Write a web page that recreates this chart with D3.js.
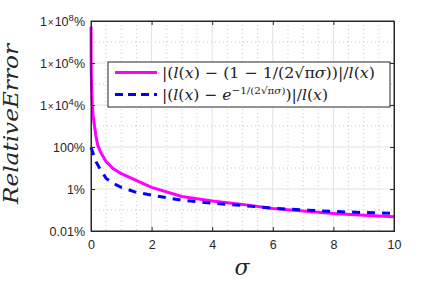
<!DOCTYPE html>
<html><head><meta charset="utf-8">
<script src="https://cdn.jsdelivr.net/npm/d3@7"></script>
<style>body{margin:0;background:#fff}svg{display:block}</style>
</head><body>
<svg id="c" width="436" height="282"></svg>
<script>
// ---- data ----
const sigmaMagenta = [0.001,0.005,0.01,0.02,0.04,0.07,0.11,0.16,0.22,0.3,0.5,0.75,1.0,2,3,4,5,6,7,8,9,10];
const errMagenta   = [5.4e7,1.6e6,3.2e5,6.3e4,1.26e4,3200,1120,355,126,63,20,8.9,5.4,1.2,0.44,0.27,0.185,0.117,0.089,0.069,0.056,0.048];
const sigmaBlue = [0.001,0.08,0.165,0.3,0.5,0.75,1.0,1.5,2,3,4,5,6,7,8,9,10];
const errBlue   = [95,45,20,8.9,3.2,1.78,1.2,0.69,0.51,0.29,0.21,0.163,0.123,0.1,0.085,0.076,0.069];
const xTicks = [0,2,4,6,8,10];
const xMinor = [0.5,1,1.5,2.5,3,3.5,4.5,5,5.5,6.5,7,7.5,8.5,9,9.5];
const yTicks = [0.01,1,100,1e4,1e6,1e8];
const yTickLabels = ["0.01%","1%","100%","1×10^4%","1×10^6%","1×10^8%"];
const yMinor = [0.1,10,1e3,1e5,1e7];

const svg = d3.select("#c");
const L=91,R=394,T=21,B=231;
const x = d3.scaleLinear().domain([0,10]).range([L,R]);
const y = d3.scaleLog().domain([0.01,1e8]).range([B,T]);
const axisCol="#262626";

// grid
const g = svg.append("g");
g.selectAll(".mx").data(xMinor).join("line").attr("x1",d=>x(d)).attr("x2",d=>x(d)).attr("y1",T).attr("y2",B)
 .attr("stroke","#c8c8c8").attr("stroke-width",1).attr("stroke-dasharray","1,3");
g.selectAll(".my").data(yMinor).join("line").attr("y1",d=>y(d)).attr("y2",d=>y(d)).attr("x1",L).attr("x2",R)
 .attr("stroke","#c8c8c8").attr("stroke-width",1).attr("stroke-dasharray","1,3");
g.selectAll(".Mx").data(xTicks.slice(1,-1)).join("line").attr("x1",d=>x(d)).attr("x2",d=>x(d)).attr("y1",T).attr("y2",B)
 .attr("stroke","#e2e2e2").attr("stroke-width",1);
g.selectAll(".My").data(yTicks.slice(1,-1)).join("line").attr("y1",d=>y(d)).attr("y2",d=>y(d)).attr("x1",L).attr("x2",R)
 .attr("stroke","#e2e2e2").attr("stroke-width",1);

// lines
const lineM = d3.line().x((d,i)=>x(sigmaMagenta[i])).y(d=>y(d));
const lineB = d3.line().x((d,i)=>x(sigmaBlue[i])).y(d=>y(d));
svg.append("path").attr("d",lineM(errMagenta)).attr("fill","none").attr("stroke","#ff00ff").attr("stroke-width",3).attr("stroke-linejoin","round");
svg.append("path").attr("d",lineB(errBlue)).attr("fill","none").attr("stroke","#0000ff").attr("stroke-width",3).attr("stroke-dasharray","8,7");

// axes
const fontSans = "Liberation Sans";
const xa = svg.append("g").attr("transform",`translate(0,${B})`)
  .call(d3.axisBottom(x).tickValues(xTicks).tickSize(-4).tickPadding(9).tickFormat(d3.format("d")));
const xt = svg.append("g").attr("transform",`translate(0,${T})`)
  .call(d3.axisTop(x).tickValues(xTicks).tickSize(-4).tickFormat(""));
const ya = svg.append("g").attr("transform",`translate(${L},0)`)
  .call(d3.axisLeft(y).tickValues(yTicks).tickSize(-4).tickPadding(6).tickFormat((d,i)=>""));
const yr = svg.append("g").attr("transform",`translate(${R},0)`)
  .call(d3.axisRight(y).tickValues(yTicks).tickSize(-4).tickFormat(""));
[xa,xt,ya,yr].forEach(a=>{
  a.attr("font-family",null).attr("font-size",null);
  a.selectAll("path,line").attr("stroke",axisCol);
  a.selectAll("text").attr("fill",axisCol).attr("font-family",fontSans).attr("font-size","12.5");
});
ya.selectAll(".tick text").each(function(d,i){
  const t=d3.select(this); const lab=yTickLabels[i];
  const m = lab.match(/^1×10\^(\d+)(%)$/);
  if(m){
    t.append("tspan").text("1");
    t.append("tspan").attr("font-size","10").attr("dx","1").text("×");
    t.append("tspan").attr("dx","1").text("10");
    t.append("tspan").attr("dy","-5").attr("font-size","9.5").text(m[1]);
    t.append("tspan").attr("dy","5").text(m[2]);
  } else t.text(lab);
});
svg.append("rect").attr("x",L).attr("y",T).attr("width",R-L).attr("height",B-T).attr("fill","none").attr("stroke",axisCol).attr("stroke-width",1);

// labels
const serif = "DejaVu Serif";
svg.append("text").attr("transform","translate(18,124) rotate(-90)").attr("text-anchor","middle")
  .attr("font-family",serif).attr("font-style","italic").attr("font-size","20").attr("fill",axisCol)
  .attr("textLength",160).attr("lengthAdjust","spacingAndGlyphs").text("RelativeError");
svg.append("text").attr("x",242).attr("y",275).attr("text-anchor","middle")
  .attr("font-family",serif).attr("font-style","italic").attr("font-size","22").attr("fill",axisCol).text("σ");

// legend
const lg = svg.append("g");
lg.append("rect").attr("x",108).attr("y",62).attr("width",282).attr("height",45).attr("fill","#fff").attr("stroke",axisCol).attr("stroke-width",1);
lg.append("line").attr("x1",115).attr("x2",157).attr("y1",72.5).attr("y2",72.5).attr("stroke","#ff00ff").attr("stroke-width",3);
lg.append("line").attr("x1",115).attr("x2",157).attr("y1",94.5).attr("y2",94.5).attr("stroke","#0000ff").attr("stroke-width",3).attr("stroke-dasharray","8,5");
function addParts(t, parts){
  parts.forEach(p=>{
    const s=t.append("tspan").text(p[0]);
    if(p[1].includes("i")) s.attr("font-style","italic");
    if(p[1].includes("s")) s.attr("font-size","10");
    if(p[2]) s.attr("dy",p[2]);
  });
}
const t1 = lg.append("text").attr("x",162).attr("y",78).attr("font-family",serif).attr("font-size","15").attr("fill","#222")
  .attr("textLength",213).attr("lengthAdjust","spacingAndGlyphs");
addParts(t1,[["|(",""],["l","i"],["(",""],["x","i"],[") − (1 − 1/(2√π",""],["σ","i"],["))|/",""],["l","i"],["(",""],["x","i"],[")",""]]);
const t2 = lg.append("text").attr("x",162).attr("y",100).attr("font-family",serif).attr("font-size","15").attr("fill","#222")
  .attr("textLength",166).attr("lengthAdjust","spacingAndGlyphs");
addParts(t2,[["|(",""],["l","i"],["(",""],["x","i"],[") − ",""],["e","i"],["−1/(2√π","s","-6"],["σ","si"],[")","s"],[")|/","","6"],["l","i"],["(",""],["x","i"],[")",""]]);
</script>
</body></html>
